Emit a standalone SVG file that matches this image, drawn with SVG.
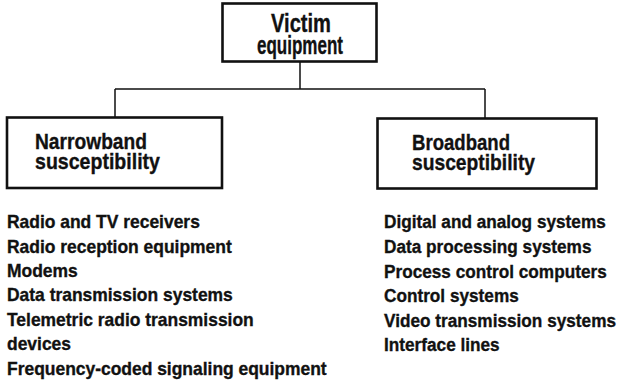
<svg xmlns="http://www.w3.org/2000/svg" width="617" height="384" viewBox="0 0 617 384">
  <style>
    .box { fill: #ffffff; stroke: #111111; stroke-width: 2.6; }
    .wire { fill: none; stroke: #111111; stroke-width: 1.5; }
    text { font-family: "Liberation Sans", Arial, sans-serif; font-weight: bold; fill: #111111; stroke: #111111; stroke-width: 0.35; }
    .title { font-size: 25px; }
    .head { font-size: 22px; }
    .item { font-size: 18.5px; }
  </style>
  <rect width="617" height="384" fill="#ffffff"/>

  <g id="connectors">
    <path class="wire" d="M300,62 V89 M115,89 H485 M115,89 V117 M485,89 V118"/>
  </g>

  <g id="victim-equipment">
    <rect class="box" x="222.5" y="3.5" width="154" height="58"/>
    <text class="title" x="271" y="32" textLength="60" lengthAdjust="spacingAndGlyphs">Victim</text>
    <text class="title" x="257" y="54" textLength="86" lengthAdjust="spacingAndGlyphs">equipment</text>
  </g>

  <g id="narrowband">
    <rect class="box" x="7" y="117.5" width="215" height="70.5"/>
    <text class="head" x="35" y="149" textLength="112" lengthAdjust="spacingAndGlyphs">Narrowband</text>
    <text class="head" x="35" y="169" textLength="125" lengthAdjust="spacingAndGlyphs">susceptibility</text>
  </g>

  <g id="broadband">
    <rect class="box" x="377.5" y="118.5" width="219" height="70"/>
    <text class="head" x="412" y="150" textLength="98" lengthAdjust="spacingAndGlyphs">Broadband</text>
    <text class="head" x="412" y="170" textLength="123" lengthAdjust="spacingAndGlyphs">susceptibility</text>
  </g>

  <!-- list columns are set in a narrowed face via a horizontal scale -->
  <g id="narrowband-list" transform="translate(7 0) scale(0.943 1)">
    <text class="item" x="0" y="228">Radio and TV receivers</text>
    <text class="item" x="0" y="253">Radio reception equipment</text>
    <text class="item" x="0" y="277">Modems</text>
    <text class="item" x="0" y="301">Data transmission systems</text>
    <text class="item" x="0" y="326">Telemetric radio transmission</text>
    <text class="item" x="0" y="350">devices</text>
    <text class="item" x="0" y="375">Frequency-coded signaling equipment</text>
  </g>

  <g id="broadband-list" transform="translate(384 0) scale(0.93 1)">
    <text class="item" x="0" y="228">Digital and analog systems</text>
    <text class="item" x="0" y="253">Data processing systems</text>
    <text class="item" x="0" y="278">Process control computers</text>
    <text class="item" x="0" y="302">Control systems</text>
    <text class="item" x="0" y="327">Video transmission systems</text>
    <text class="item" x="0" y="351">Interface lines</text>
  </g>
</svg>
